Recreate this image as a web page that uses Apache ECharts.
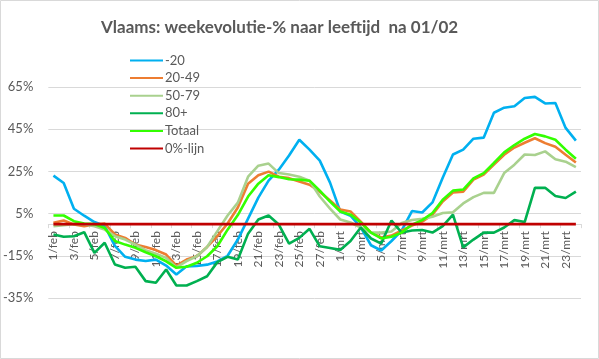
<!DOCTYPE html>
<html>
<head>
<meta charset="utf-8">
<script src="https://cdn.jsdelivr.net/npm/echarts@6/dist/echarts.min.js"></script>
<style>
html,body{margin:0;padding:0;background:#fff;}
#chart{width:599px;height:359px;}
</style>
</head>
<body>
<div id="chart"></div>
<script>
var categories = [];
for (var d = 1; d <= 28; d++) categories.push(d + '/feb');
for (var m = 1; m <= 24; m++) categories.push(m + '/mrt');

var seriesNames = ['-20', '20-49', '50-79', '80+', 'Totaal', '0%-lijn'];

var min20 = [23, 19.5, 7.3, 4, 1, -0.8, -10.3, -15.5, -16.8, -17.5, -16.8, -19.6, -23.9, -20, -19.8, -19.2, -17.7, -15, -7.3, 2.6, 12.6, 20.6, 25.8, 32.5, 40, 35.3, 30.1, 19.7, 6, 4, -1.5, -10, -12.5, -8, -3, 6.2, 5.5, 10.3, 22, 33, 35.3, 40.5, 41, 52.8, 55.2, 55.9, 59.8, 60.3, 57.2, 57.4, 45.6, 39.6];
var v20_49 = [0.6, 1.7, -0.2, -1, -0.2, 0.3, -4.9, -6.5, -9.7, -10.8, -12.3, -14.4, -19.7, -16.8, -15.2, -10.8, -5.7, 0.3, 7.9, 19.2, 23.2, 24.9, 22.5, 21.8, 20.2, 18.7, 15.4, 11.2, 6.9, 6, 1.2, -4, -6.3, -5.4, -3, -0.7, 1.2, 4.5, 10.7, 15, 15.4, 21.1, 23.5, 28.2, 32.9, 36.3, 38.6, 40.7, 38.4, 36.7, 32.9, 29.2];
var v50_79 = [-1, -0.5, 0, 0, -1, -2.6, -5.7, -7.3, -9.7, -12.3, -14, -16, -20.5, -17.5, -15.2, -10.8, -3.3, 4.1, 10.2, 22.5, 27.7, 28.7, 24.2, 23.5, 22.5, 20.6, 13.1, 7.4, 2.2, 0.8, -1.6, -4, -4, -3.5, 0.5, 2, 2.5, 3.5, 5.3, 5.6, 9.8, 12.8, 14.8, 14.8, 24.2, 28.2, 33, 32.8, 34.5, 30.8, 29.6, 27];
var v80plus = [-4.9, -6, -5.7, -3.8, -13.6, -8.8, -19.1, -20.7, -20.2, -27, -27.8, -21.5, -29.1, -29.1, -27, -24.7, -18, -15.5, -16.8, -4.5, 2.2, 4.1, -0.2, -9.2, -6.5, -2.2, -10.5, -11.3, -12.2, -8, -1.6, -6.8, -9.2, 1.7, -4, -3, -2.8, -4, -0.9, 4.5, -11, -7.3, -4, -4, -1.6, 1.9, 1, 17.2, 17.2, 13.3, 12.4, 15.4];
var totaal = [4.1, 4.1, 1.4, 0.3, 0, -1.8, -8, -9.7, -11.2, -13.3, -15.2, -17.6, -20.7, -20.2, -18.3, -15.2, -10.5, -2.6, 4.3, 13.1, 19.2, 23.2, 22.3, 21.3, 21.1, 20.6, 15.9, 10.7, 6, 4.5, 0.8, -4, -6.8, -6, -4, -0.2, 1.9, 5.3, 11.6, 15.9, 16.4, 21.7, 24.2, 29, 34, 37.5, 40.5, 42.7, 41.6, 40, 35.3, 31];
var nulLijn = categories.map(function () { return 0; });

var yTickMin = -35, yTickMax = 65, yTickStep = 20;

var colors = ['#00b0f0', '#ed7d31', '#a9d18e', '#00b050', '#33ff00', '#c00000'];
var dataSets = [min20, v20_49, v50_79, v80plus, totaal, nulLijn];

var FONT = 'Lato, "Open Sans", sans-serif';
var GRID_TOP = 87, GRID_BOTTOM = 61, H = 359;
var plotH = H - GRID_TOP - GRID_BOTTOM;
var zeroOffset = plotH * (0 - yTickMin) / (yTickMax - yTickMin);

var chart = echarts.init(document.getElementById('chart'), null, {renderer: 'canvas'});
chart.setOption({
  animation: false,
  textStyle: {fontFamily: FONT},
  title: {
    text: 'Vlaams: weekevolutie-% naar leeftijd  na 01/02',
    left: 96, top: 14,
    textStyle: {fontSize: 17, fontWeight: 'bold', color: '#595959', fontFamily: FONT}
  },
  graphic: [{
    type: 'rect', shape: {x: 0.5, y: 0.5, width: 598, height: 358},
    style: {fill: 'none', stroke: '#d9d9d9', lineWidth: 1}, silent: true
  }],
  legend: {
    orient: 'vertical', left: 124, top: 49,
    itemWidth: 33, itemHeight: 12, itemGap: 4.6,
    data: seriesNames,
    itemStyle: {opacity: 0},
    textStyle: {fontSize: 13, color: '#595959', fontFamily: FONT, padding: [0, 0, 0, -3]}
  },
  grid: {left: 48, right: 18, top: GRID_TOP, bottom: GRID_BOTTOM},
  xAxis: {
    type: 'category', data: categories, boundaryGap: true,
    position: 'bottom', offset: -zeroOffset,
    axisLine: {onZero: false, lineStyle: {color: '#d9d9d9', width: 1}},
    axisTick: {show: true, interval: 1, length: 4, lineStyle: {color: '#d9d9d9'}},
    axisLabel: {rotate: 90, interval: 1, fontSize: 12, color: '#595959', fontFamily: FONT, margin: 7},
    splitLine: {show: false}
  },
  yAxis: {
    type: 'value', min: yTickMin, max: yTickMax, interval: yTickStep,
    axisLine: {show: false}, axisTick: {show: false},
    axisLabel: {formatter: '{value}%', fontSize: 13, color: '#595959', fontFamily: FONT, margin: 15},
    splitLine: {lineStyle: {color: '#d9d9d9', width: 1}}
  },
  series: seriesNames.map(function (n, k) {
    return {
      name: n, type: 'line', data: dataSets[k], symbol: 'none',
      lineStyle: {color: colors[k], width: 2.6},
      itemStyle: {color: colors[k]},
      z: 2 + k
    };
  })
});
</script>
</body>
</html>
